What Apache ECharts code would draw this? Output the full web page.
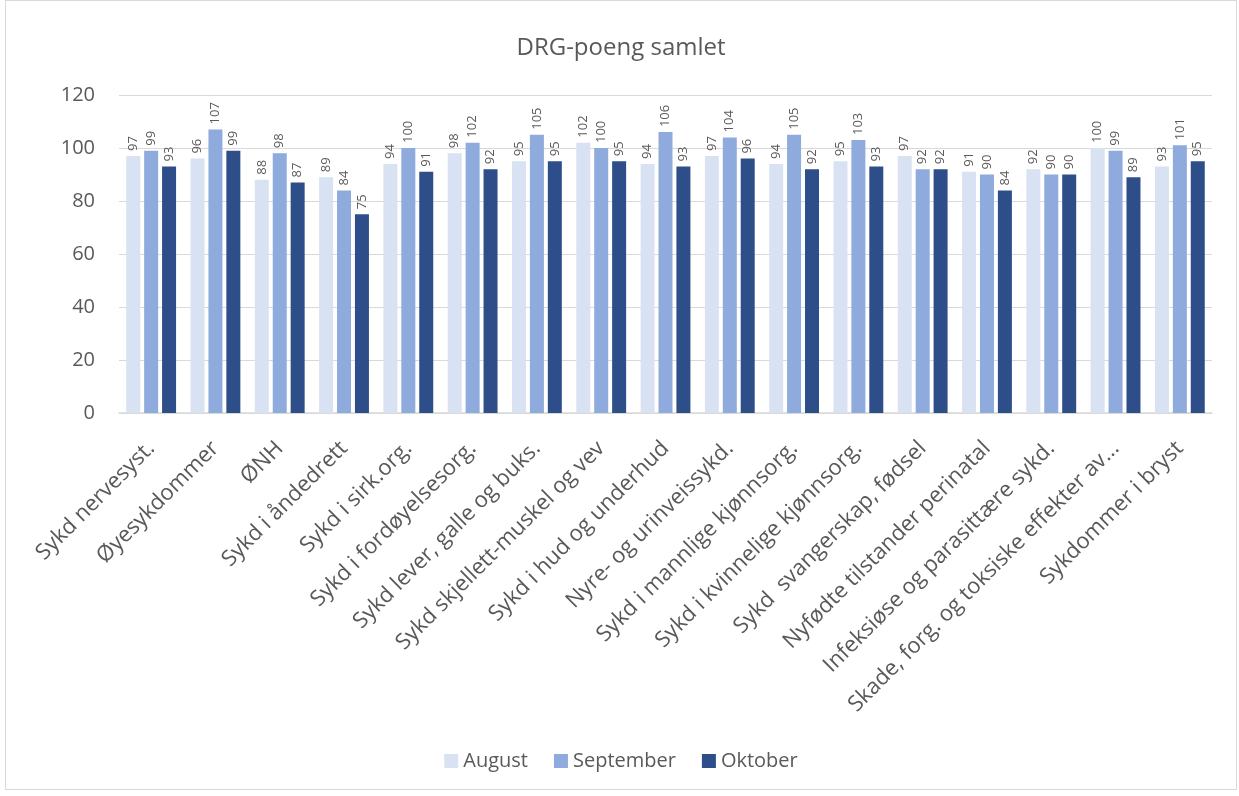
<!DOCTYPE html>
<html>
<head>
<meta charset="utf-8">
<script src="https://cdn.jsdelivr.net/npm/echarts@6/dist/echarts.min.js"></script>
<style>
html, body { margin: 0; padding: 0; background: #fff; }
#chart { position: absolute; left: 5px; top: 0; width: 1232px; height: 790px; border: 1px solid #d9d9d9; box-sizing: border-box; }
</style>
</head>
<body>
<div id="chart"></div>
<script>
var categories = [
    "Sykd nervesyst.", "Øyesykdommer", "ØNH", "Sykd i åndedrett", "Sykd i sirk.org.",
    "Sykd i fordøyelsesorg.", "Sykd lever, galle og buks.", "Sykd skjellett-muskel og vev",
    "Sykd i hud og underhud", "Nyre- og urinveissykd.", "Sykd i mannlige kjønnsorg.",
    "Sykd i kvinnelige kjønnsorg.", "Sykd  svangerskap, fødsel", "Nyfødte tilstander perinatal",
    "Infeksiøse og parasittære sykd.", "Skade, forg. og toksiske effekter av...", "Sykdommer i bryst"
];
var august = [97, 96, 88, 89, 94, 98, 95, 102, 94, 97, 94, 95, 97, 91, 92, 100, 93];
var september = [99, 107, 98, 84, 100, 102, 105, 100, 106, 104, 105, 103, 92, 90, 90, 99, 101];
var oktober = [93, 99, 87, 75, 91, 92, 95, 95, 93, 96, 92, 93, 92, 84, 90, 89, 95];
var yTicks = [0, 20, 40, 60, 80, 100, 120];

var textColor = "#595959";
var fontFam = "'Open Sans', sans-serif";

function makeSeries(name, data, color) {
    return {
        name: name,
        type: "bar",
        data: data,
        barWidth: 14,
        barGap: "28%",
        itemStyle: { color: color },
        label: {
            show: true,
            position: "top",
            rotate: 90,
            align: "left",
            verticalAlign: "middle",
            distance: 5,
            color: textColor,
            fontSize: 13,
            fontFamily: fontFam
        }
    };
}

var myChart = echarts.init(document.getElementById("chart"));
var option = {
    animation: false,
    title: {
        text: "DRG-poeng samlet",
        left: "center",
        top: 30,
        textStyle: { color: textColor, fontSize: 24, fontWeight: "normal", fontFamily: fontFam }
    },
    legend: {
        data: ["August", "September", "Oktober"],
        bottom: 13,
        left: "center",
        itemWidth: 14,
        itemHeight: 14,
        itemGap: 26,
        icon: "rect",
        textStyle: { color: textColor, fontSize: 20, fontFamily: fontFam }
    },
    grid: { left: 113, right: 24, top: 94, bottom: 376, containLabel: false },
    xAxis: {
        type: "category",
        data: categories,
        axisLine: { lineStyle: { color: "#d9d9d9", width: 1.5 } },
        axisTick: { show: false },
        axisLabel: {
            interval: 0,
            rotate: 45,
            margin: 32,
            color: textColor,
            fontSize: 22,
            fontFamily: fontFam
        }
    },
    yAxis: {
        type: "value",
        min: yTicks[0],
        max: yTicks[yTicks.length - 1],
        interval: 20,
        axisLine: { show: false },
        axisTick: { show: false },
        splitLine: { lineStyle: { color: "#d9d9d9", width: 1 } },
        axisLabel: { color: textColor, fontSize: 20, margin: 24, fontFamily: fontFam }
    },
    series: [
        makeSeries("August", august, "#d9e2f3"),
        makeSeries("September", september, "#8faadc"),
        makeSeries("Oktober", oktober, "#2e4e8a")
    ]
};
myChart.setOption(option);
</script>
</body>
</html>
